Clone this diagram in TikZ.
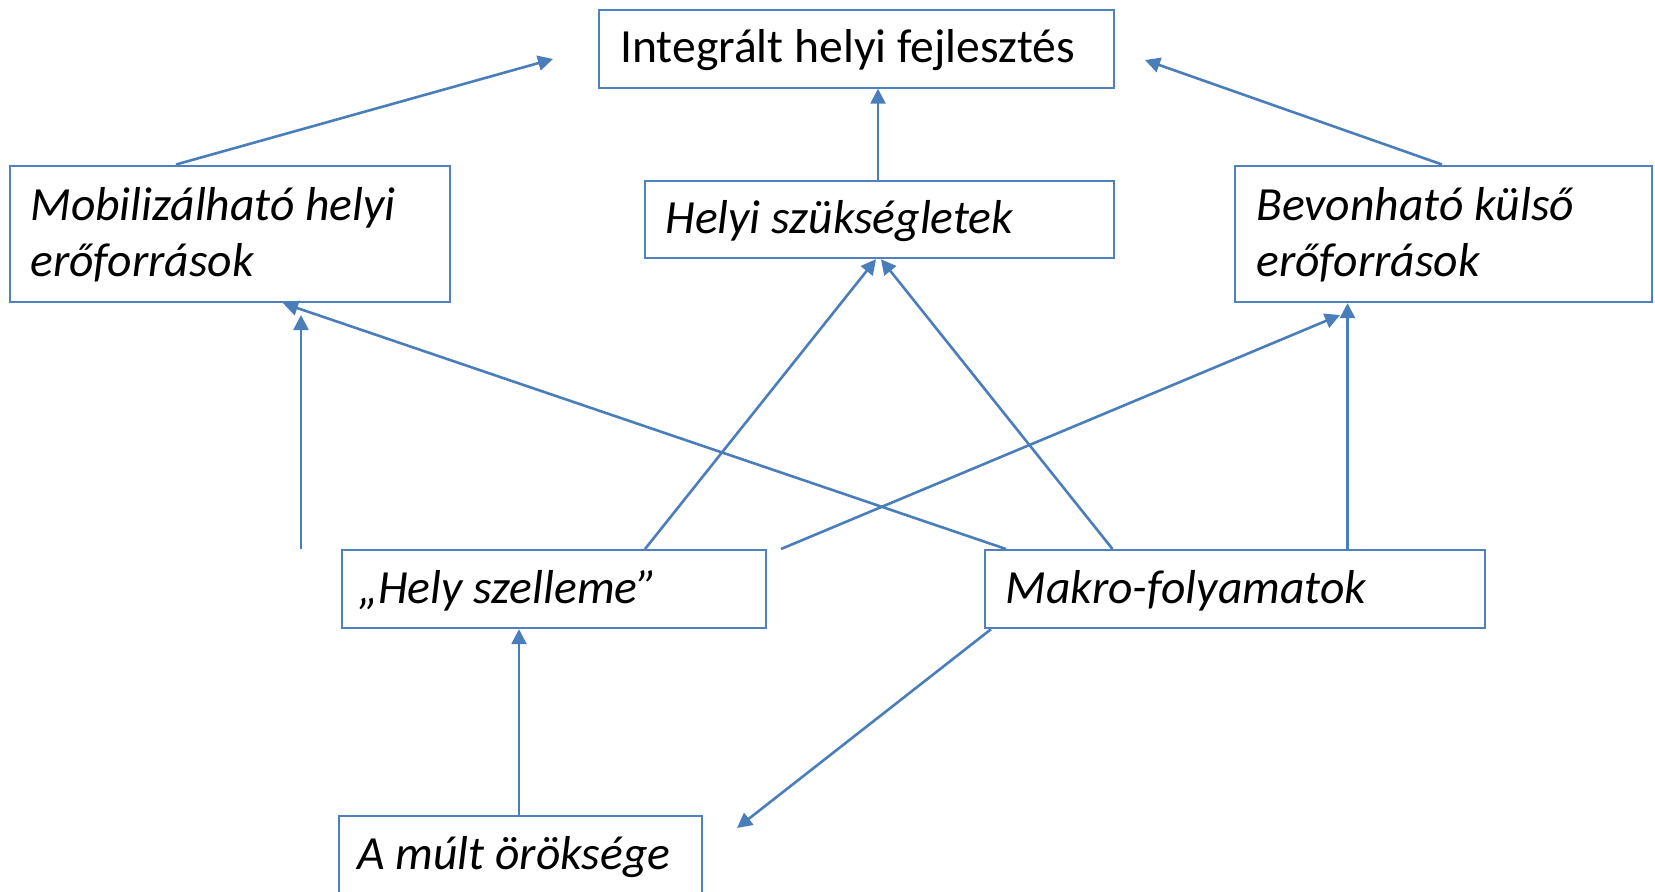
\documentclass[tikz,border=0pt]{standalone}
\usepackage{fontspec}
\setmainfont{Carlito}
\usetikzlibrary{arrows.meta}
\definecolor{lineblue}{HTML}{4A7EBB}
\definecolor{boxblue}{HTML}{4F81BD}
\begin{document}
\begin{tikzpicture}[x=0.5pt,y=-0.5pt,
  box/.style={draw=boxblue,line width=1.1pt,rectangle,inner sep=0pt,anchor=north west},
  lbl/.style={inner sep=0pt,anchor=base west,align=left,font=\fontsize{23.8}{28}\selectfont\itshape},
  lblup/.style={inner sep=0pt,anchor=base west,font=\fontsize{23.8}{28}\selectfont},
  conn/.style={draw=lineblue,line width=1.3pt,-{Triangle[length=7.5pt,width=7.5pt]}}]
\useasboundingbox (0,0) rectangle (1655,891);
\fill[white] (0,0) rectangle (1655,891);
% boxes
\node[box,minimum width=257.5pt,minimum height=39pt] (int) at (598,8.5) {};
\node[box,minimum width=234.5pt,minimum height=38.5pt] (hsz) at (644,180) {};
\node[box,minimum width=219.75pt,minimum height=68.25pt] (mob) at (9,164.5) {};
\node[box,minimum width=208.5pt,minimum height=68.25pt] (bev) at (1234,164.5) {};
\node[box,minimum width=212pt,minimum height=39pt] (hely) at (341,549) {};
\node[box,minimum width=250pt,minimum height=39pt] (mak) at (984,549) {};
\node[box,minimum width=181.5pt,minimum height=39pt] (mult) at (338,815) {};
% texts
\node[lblup] (intT) at (620,62.7) {Integrált helyi fejlesztés};
\node[lbl] (hszT) at (665,233) {Helyi szükségletek};
\node[lbl] (mobT) at (30,276) {Mobilizálható helyi\\erőforrások};
\node[lbl] (bevT) at (1256,276) {Bevonható külső\\erőforrások};
\node[lbl] (helyT) at (358,603) {„Hely szelleme”};
\node[lbl] (makT) at (1005,603) {Makro-folyamatok};
\node[lbl] (multT) at (357,869) {A múlt öröksége};
% free ends
\coordinate (t1) at (553,59);
\coordinate (t3) at (1145,60);
\coordinate (s7) at (301,549);
\coordinate (t7) at (301,315);
\coordinate (s8) at (781,549);
\coordinate (t8) at (1340,315);
\coordinate (t10) at (737,828);
% connectors
\draw[conn] ([xshift=83.5pt]mob.north west) -- (t1);
\draw[conn] ([xshift=117pt]hsz.north west) -- ([xshift=117pt]hsz.north west |- int.south);
\draw[conn] ([xshift=104pt]bev.north west) -- (t3);
\draw[conn] ([xshift=152pt]hely.north west) -- ([xshift=116pt]hsz.south west);
\draw[conn] ([xshift=64.25pt]mak.north west) -- ([xshift=118.5pt]hsz.south west);
\draw[conn] ([xshift=11pt]mak.north west) -- ([xshift=137pt]mob.south west);
\draw[conn] (s7) -- (t7);
\draw[conn] (s8) -- (t8);
\draw[conn] ([xshift=181.75pt]mak.north west) -- ([xshift=181.75pt]mak.north west |- bev.south);
\draw[conn] ([xshift=3.5pt]mak.south west) -- (t10);
\draw[conn] ([xshift=90.5pt]mult.north west) -- ([xshift=90.5pt]mult.north west |- hely.south);
\end{tikzpicture}
\end{document}
